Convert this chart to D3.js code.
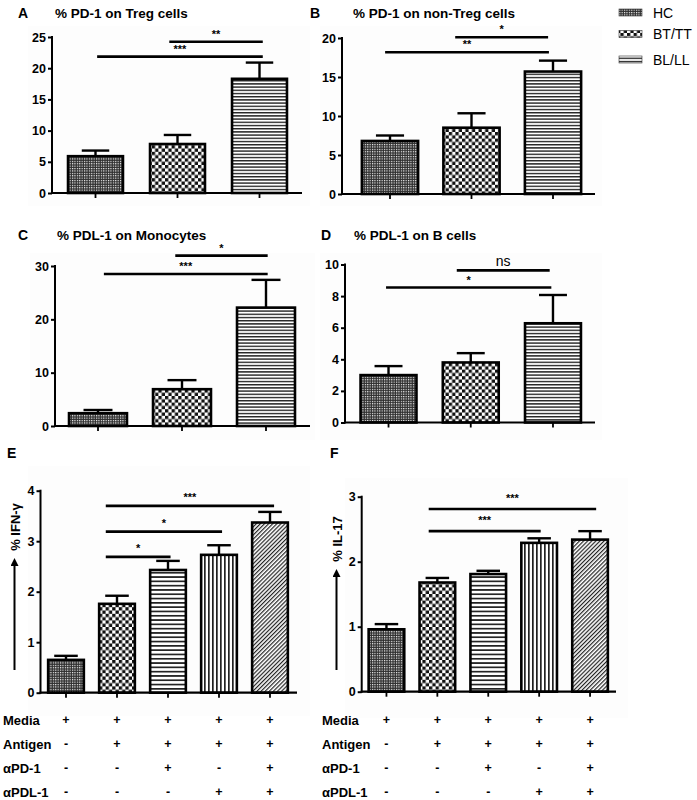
<!DOCTYPE html>
<html><head><meta charset="utf-8">
<script src="https://cdn.jsdelivr.net/npm/d3@7"></script>
<style>
html,body{margin:0;padding:0;background:#fff;}
svg{display:block;font-family:"Liberation Sans",Arial,sans-serif;}
</style></head>
<body>
<svg id="chart" width="697" height="800"></svg>
<script>
// ---------- DATA ----------
const groups = ["HC", "BT/TT", "BL/LL"];
const conditions = ["C1", "C2", "C3", "C4", "C5"];

const titleA = "% PD-1 on Treg cells";
const meanA = [5.9, 7.85, 18.3];
const semA  = [0.9, 1.45, 2.6];
const ticksA = [0, 5, 10, 15, 20, 25];
const sigA = [[0.02, 2.04, 21.85, "***"], [0.9, 2.04, 24.25, "**"]];

const titleB = "% PD-1 on non-Treg cells";
const meanB = [6.8, 8.5, 15.7];
const semB  = [0.7, 1.85, 1.4];
const ticksB = [0, 5, 10, 15, 20];
const sigB = [[-0.06, 1.95, 18.17, "**"], [0.8, 1.94, 20.1, "*"]];

const titleC = "% PDL-1 on Monocytes";
const meanC = [2.4, 6.9, 22.2];
const semC  = [0.6, 1.7, 5.2];
const ticksC = [0, 10, 20, 30];
const sigC = [[0.07, 2.02, 28.5, "***"], [0.92, 2.02, 31.95, "*"]];

const titleD = "% PDL-1 on B cells";
const meanD = [3.0, 3.8, 6.28];
const semD  = [0.57, 0.59, 1.79];
const ticksD = [0, 2, 4, 6, 8, 10];
const sigD = [[-0.03, 1.98, 8.54, "*"], [0.83, 1.96, 9.63, "ns"]];

const ylabelE = "% IFN-γ";
const meanE = [0.65, 1.76, 2.43, 2.73, 3.37];
const semE  = [0.08, 0.16, 0.18, 0.19, 0.21];
const ticksE = [0, 1, 2, 3, 4];
const sigE = [[0.78, 2.05, 2.69, "*"], [0.78, 3.06, 3.19, "*"], [0.78, 4.08, 3.70, "***"]];

const ylabelF = "% IL-17";
const meanF = [0.96, 1.68, 1.81, 2.29, 2.34];
const semF  = [0.08, 0.07, 0.05, 0.07, 0.13];
const ticksF = [0, 1, 2, 3];
const sigF = [[0.83, 3.03, 2.47, "***"], [0.83, 4.12, 2.81, "***"]];

const tableRows  = ["Media", "Antigen", "αPD-1", "αPDL-1"];
const tableMedia   = ["+", "+", "+", "+", "+"];
const tableAntigen = ["-", "+", "+", "+", "+"];
const tablePD1     = ["-", "-", "+", "-", "+"];
const tablePDL1    = ["-", "-", "-", "+", "+"];

// ---------- DRAWING ----------
const svg = d3.select("#chart");
const defs = svg.append("defs");

function pat(id, w, h, draw, transform) {
  const p = defs.append("pattern").attr("id", id)
    .attr("patternUnits", "userSpaceOnUse").attr("width", w).attr("height", h);
  if (transform) p.attr("patternTransform", transform);
  p.append("rect").attr("width", w).attr("height", h).attr("fill", "#fff");
  draw(p);
}
pat("pHC", 2.4, 2.4, p => {
  p.append("rect").attr("width", 2.4).attr("height", 2.4).attr("fill", "#2e2e2e");
  p.append("rect").attr("width", 1.15).attr("height", 1.15).attr("fill", "#fff");
});
pat("pBT", 6.6, 6.6, p => {
  p.append("rect").attr("width", 3.3).attr("height", 3.3).attr("fill", "#111");
  p.append("rect").attr("x", 3.3).attr("y", 3.3).attr("width", 3.3).attr("height", 3.3).attr("fill", "#111");
});
pat("pBL", 10, 3.2, p => {
  p.append("rect").attr("width", 10).attr("height", 1.4).attr("fill", "#222");
});
pat("pH2", 10, 4.3, p => {
  p.append("rect").attr("width", 10).attr("height", 1.7).attr("fill", "#222");
});
pat("pV", 4, 10, p => {
  p.append("rect").attr("width", 1.7).attr("height", 10).attr("fill", "#222");
});
pat("pD", 2.9, 10, p => {
  p.append("rect").attr("width", 1.2).attr("height", 10).attr("fill", "#222");
}, "rotate(45)");

const fillsABCD = ["url(#pHC)", "url(#pBT)", "url(#pBL)"];
const fillsEF = ["url(#pHC)", "url(#pBT)", "url(#pH2)", "url(#pV)", "url(#pD)"];

function panel(cfg) {
  const g = svg.append("g");
  // very faint plot background
  g.append("rect").attr("x", cfg.bg[0]).attr("y", cfg.bg[1]).attr("width", cfg.bg[2]).attr("height", cfg.bg[3])
    .attr("fill", "#fdfdfd");
  const y = d3.scaleLinear().domain([0, d3.max(cfg.ticks)]).range([cfg.y0, cfg.yTop]);
  const x = d3.scaleBand().domain(cfg.cats).range(cfg.band).paddingInner(cfg.pad).paddingOuter(cfg.pad / 2);
  const xi = d3.scaleLinear().domain([0, 1]).range([x(cfg.cats[0]) + x.bandwidth() / 2, x(cfg.cats[1]) + x.bandwidth() / 2]);
  const bw = x.bandwidth();

  cfg.mean.forEach((m, i) => {
    const cx = x(cfg.cats[i]) + bw / 2;
    g.append("line").attr("x1", cx).attr("x2", cx).attr("y1", y(m)).attr("y2", y(m + cfg.sem[i]))
      .attr("stroke", "#000").attr("stroke-width", 2.4);
    g.append("line").attr("x1", cx - bw * cfg.cap / 2).attr("x2", cx + bw * cfg.cap / 2)
      .attr("y1", y(m + cfg.sem[i])).attr("y2", y(m + cfg.sem[i]))
      .attr("stroke", "#000").attr("stroke-width", 2.4);
    g.append("rect").attr("x", x(cfg.cats[i])).attr("y", y(m)).attr("width", bw).attr("height", y(0) - y(m))
      .attr("fill", cfg.fills[i]).attr("stroke", "#000").attr("stroke-width", 2.6);
  });

  const ya = g.append("g").attr("transform", `translate(${cfg.axisX},0)`)
    .call(d3.axisLeft(y).tickValues(cfg.ticks).tickSize(4).tickPadding(2).tickFormat(d3.format("d")));
  ya.select(".domain").attr("stroke-width", 2).attr("d", `M0,${cfg.y0 + 1}V${cfg.yTop - 1}`);
  ya.selectAll(".tick line").attr("stroke-width", 2);
  ya.selectAll("text").attr("font-size", 12.5).attr("font-weight", "bold").attr("fill", "#000")
    .attr("font-family", "'Liberation Sans',Arial,sans-serif");

  g.append("line").attr("x1", cfg.axisX - 1).attr("x2", cfg.xEnd).attr("y1", cfg.y0).attr("y2", cfg.y0)
    .attr("stroke", "#000").attr("stroke-width", 2.2);
  cfg.cats.forEach(c => {
    const cx = x(c) + bw / 2;
    g.append("line").attr("x1", cx).attr("x2", cx).attr("y1", cfg.y0).attr("y2", cfg.y0 + 5)
      .attr("stroke", "#000").attr("stroke-width", 1.8);
  });

  cfg.sig.forEach(s => {
    const yy = y(s[2]);
    g.append("line").attr("x1", xi(s[0])).attr("x2", xi(s[1])).attr("y1", yy).attr("y2", yy)
      .attr("stroke", "#000").attr("stroke-width", 2.6);
    const isNs = s[3] === "ns";
    g.append("text").attr("x", (xi(s[0]) + xi(s[1])) / 2)
      .attr("y", isNs ? yy - 4 : yy - cfg.starOff)
      .attr("text-anchor", "middle").attr("font-size", isNs ? 14 : 11).attr("font-weight", isNs ? "normal" : "bold")
      .text(s[3]);
  });
  return x;
}

function title(letter, lx, ly, txt, tx) {
  svg.append("text").attr("x", lx).attr("y", ly).attr("font-size", 14).attr("font-weight", "bold").text(letter);
  if (txt) svg.append("text").attr("x", tx).attr("y", ly).attr("font-size", 13.5).attr("font-weight", "bold").text(txt);
}

title("A", 18, 18, titleA, 55);
title("B", 310, 18, titleB, 353);
title("C", 18, 240, titleC, 57);
title("D", 321, 240, titleD, 354);
title("E", 7, 458);
title("F", 330, 458);

panel({cats: groups, mean: meanA, sem: semA, ticks: ticksA, sig: sigA, fills: fillsABCD,
  axisX: 52, xEnd: 302, y0: 193, yTop: 37, band: [54.5, 300.5], pad: 0.33, cap: 0.5, starOff: 4,
  bg: [28, 26, 282, 180]});
panel({cats: groups, mean: meanB, sem: semB, ticks: ticksB, sig: sigB, fills: fillsABCD,
  axisX: 342, xEnd: 595, y0: 194, yTop: 38, band: [349.25, 593.75], pad: 0.31, cap: 0.5, starOff: 4,
  bg: [320, 26, 282, 180]});
panel({cats: groups, mean: meanC, sem: semC, ticks: ticksC, sig: sigC, fills: fillsABCD,
  axisX: 55, xEnd: 310, y0: 426, yTop: 266, band: [56, 308], pad: 0.31, cap: 0.5, starOff: 4,
  bg: [30, 253, 285, 187]});
panel({cats: groups, mean: meanD, sem: semD, ticks: ticksD, sig: sigD, fills: fillsABCD,
  axisX: 345, xEnd: 595, y0: 422.5, yTop: 264.5, band: [347.4, 594.1], pad: 0.32, cap: 0.5, starOff: 4,
  bg: [320, 253, 282, 187]});
const xE = panel({cats: conditions, mean: meanE, sem: semE, ticks: ticksE, sig: sigE, fills: fillsEF,
  axisX: 40.5, xEnd: 297, y0: 692.7, yTop: 490.7, band: [40.5, 295.5], pad: 0.3, cap: 0.66, starOff: 5,
  bg: [28, 466, 282, 250]});
const xF = panel({cats: conditions, mean: meanF, sem: semF, ticks: ticksF, sig: sigF, fills: fillsEF,
  axisX: 361.7, xEnd: 616, y0: 691.7, yTop: 496.7, band: [361, 615.5], pad: 0.3, cap: 0.66, starOff: 7,
  bg: [345, 478, 283, 240]});

defs.append("marker").attr("id", "arr").attr("viewBox", "0 0 10 10").attr("refX", 5).attr("refY", 5)
  .attr("markerWidth", 4).attr("markerHeight", 4).attr("orient", "auto")
  .append("path").attr("d", "M0,0L10,5L0,10z").attr("fill", "#000");
function ylab(txt, x, cy, arrowBottom, arrowTop) {
  svg.append("text").attr("transform", `translate(${x},${cy}) rotate(-90)`).attr("text-anchor", "middle")
    .attr("font-size", 13).attr("font-weight", "bold").text(txt);
  svg.append("line").attr("x1", x - 5).attr("x2", x - 5).attr("y1", arrowBottom).attr("y2", arrowTop)
    .attr("stroke", "#000").attr("stroke-width", 2).attr("marker-end", "url(#arr)");
}
ylab(ylabelE, 19.5, 527, 670, 562);
ylab(ylabelF, 341.5, 539, 670, 573);

const tableVals = [tableMedia, tableAntigen, tablePD1, tablePDL1];
const rowY = [725, 749, 773, 797];
function table(xs, labelX) {
  tableRows.forEach((r, i) => {
    svg.append("text").attr("x", labelX).attr("y", rowY[i]).attr("font-size", 13).attr("font-weight", "bold").text(r);
    tableVals[i].forEach((v, j) => {
      svg.append("text").attr("x", xs(conditions[j]) + xs.bandwidth() / 2).attr("y", rowY[i] - 1)
        .attr("text-anchor", "middle").attr("font-size", 12.5).attr("font-weight", "bold").text(v);
    });
  });
}
table(xE, 3);
table(xF, 322);

const legFills = ["url(#pHC)", "url(#pBT)", "url(#pBL)"];
const legY = [12.5, 34, 59.5];
groups.forEach((gname, i) => {
  svg.append("rect").attr("x", 619).attr("y", legY[i] - 3.5).attr("width", 23).attr("height", 7)
    .attr("fill", legFills[i]).attr("stroke", "#333").attr("stroke-width", 0.6);
  svg.append("text").attr("x", 653).attr("y", legY[i] + 5).attr("font-size", 14).text(gname);
});
</script>
</body></html>
